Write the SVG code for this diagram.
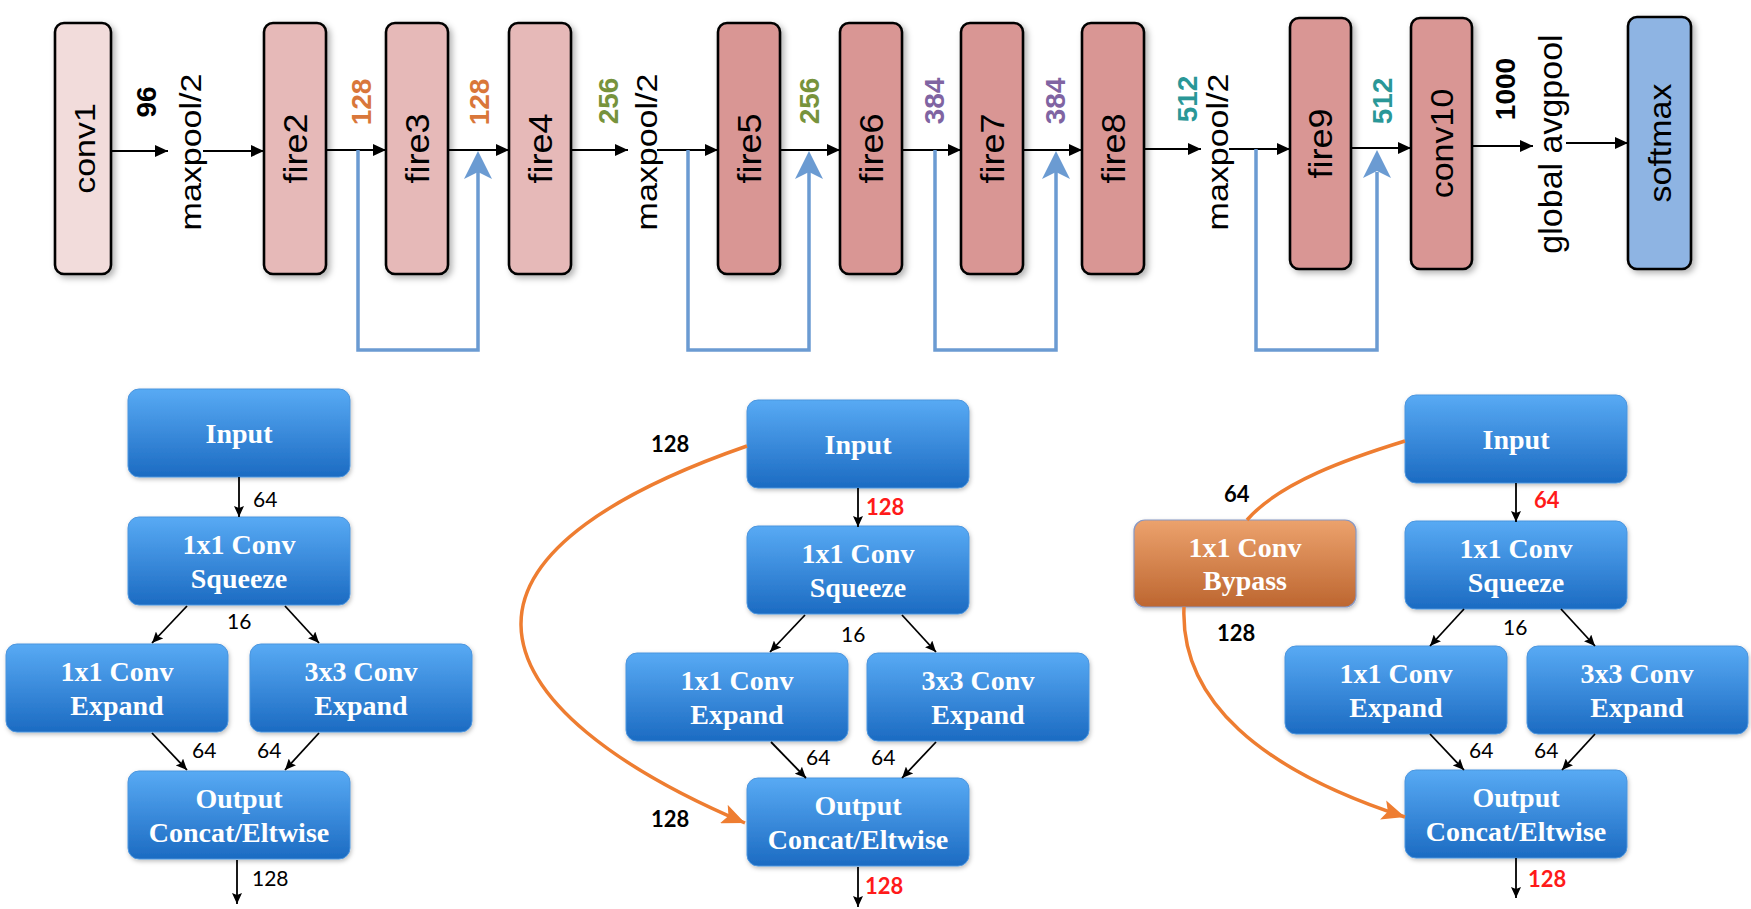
<svg xmlns="http://www.w3.org/2000/svg" width="1751" height="909" viewBox="0 0 1751 909">
<defs>
<style>
.tb{stroke:#000;stroke-width:2.6}
.c1{fill:#f2dcdb}.f1{fill:#e6b9b8}.f2{fill:#d99694}.sm{fill:#8eb4e3}
.lbl{font-family:"Liberation Sans",Arial,sans-serif;font-size:34px;fill:#000;text-anchor:middle}
.fl{font-size:36px}
.num{font-family:"Liberation Sans",Arial,sans-serif;font-size:28px;font-weight:bold;text-anchor:middle}
.ln{stroke:#000;stroke-width:2.2;fill:none}
.sk{stroke:#6b9bd2;stroke-width:3.5;fill:none}
.bl{fill:url(#gb);stroke:#4b95de;stroke-width:1}
.or{fill:url(#go);stroke:#8798c4;stroke-width:1.2}
.bt{font-family:"Liberation Serif","Times New Roman",serif;font-size:28px;font-weight:bold;fill:#fff;text-anchor:middle}
.sa{stroke:#000;stroke-width:1.8;fill:none}
.n{font-family:Lato,"Liberation Sans",sans-serif;font-size:21px;fill:#000}
.nb{font-family:Lato,"Liberation Sans",sans-serif;font-size:22px;font-weight:bold;fill:#000}
.nr{font-family:Lato,"Liberation Sans",sans-serif;font-size:22px;font-weight:bold;fill:#ff1a1a}
.oc{stroke:#ee7d31;stroke-width:3.5;fill:none}
</style>
<linearGradient id="gb" x1="0" y1="0" x2="0" y2="1">
<stop offset="0" stop-color="#58aaf4"/><stop offset="1" stop-color="#1c6bc2"/>
</linearGradient>
<linearGradient id="go" x1="0" y1="0" x2="0" y2="1">
<stop offset="0" stop-color="#eca26d"/><stop offset="1" stop-color="#bd6630"/>
</linearGradient>
<filter id="sh" x="-20%" y="-10%" width="150%" height="130%">
<feDropShadow dx="3" dy="3" stdDeviation="3" flood-color="#000" flood-opacity="0.3"/>
</filter>
<filter id="sh2" x="-10%" y="-10%" width="130%" height="140%">
<feDropShadow dx="1" dy="2" stdDeviation="2" flood-color="#000" flood-opacity="0.25"/>
</filter>
<marker id="ah" markerWidth="14" markerHeight="12" refX="13" refY="6" orient="auto" markerUnits="userSpaceOnUse">
<path d="M0,0 L13,6 L0,12 Z" fill="#000"/>
</marker>
<marker id="as" markerWidth="11" markerHeight="10" refX="11" refY="5" orient="auto" markerUnits="userSpaceOnUse">
<path d="M0,0 L11,5 L0,10 L2,5 Z" fill="#000"/>
</marker>
<marker id="ao" markerWidth="24" markerHeight="20" refX="23" refY="10" orient="auto" markerUnits="userSpaceOnUse">
<path d="M0,0 L23,10 L0,20 L5,10 Z" fill="#ee7d31"/>
</marker>
</defs>
<rect width="1751" height="909" fill="#fff"/>

<!-- top row nodes -->
<g id="conv1"><rect class="tb c1" x="55" y="23" width="56" height="251" rx="9" filter="url(#sh)"/><text class="lbl" transform="translate(95,148.5) scale(0.85,1) rotate(-90)">conv1</text></g>
<g id="fire2"><rect class="tb f1" x="264" y="23" width="62" height="251" rx="9" filter="url(#sh)"/><text class="lbl fl" transform="translate(307,148.5) scale(0.9,1) rotate(-90)">fire2</text></g>
<g id="fire3"><rect class="tb f1" x="386" y="23" width="62" height="251" rx="9" filter="url(#sh)"/><text class="lbl fl" transform="translate(429,148.5) scale(0.9,1) rotate(-90)">fire3</text></g>
<g id="fire4"><rect class="tb f1" x="509" y="23" width="62" height="251" rx="9" filter="url(#sh)"/><text class="lbl fl" transform="translate(552,148.5) scale(0.9,1) rotate(-90)">fire4</text></g>
<g id="fire5"><rect class="tb f2" x="718" y="23" width="62" height="251" rx="9" filter="url(#sh)"/><text class="lbl fl" transform="translate(761,148.5) scale(0.9,1) rotate(-90)">fire5</text></g>
<g id="fire6"><rect class="tb f2" x="840" y="23" width="62" height="251" rx="9" filter="url(#sh)"/><text class="lbl fl" transform="translate(883,148.5) scale(0.9,1) rotate(-90)">fire6</text></g>
<g id="fire7"><rect class="tb f2" x="961" y="23" width="62" height="251" rx="9" filter="url(#sh)"/><text class="lbl fl" transform="translate(1004,148.5) scale(0.9,1) rotate(-90)">fire7</text></g>
<g id="fire8"><rect class="tb f2" x="1082" y="23" width="62" height="251" rx="9" filter="url(#sh)"/><text class="lbl fl" transform="translate(1125,148.5) scale(0.9,1) rotate(-90)">fire8</text></g>
<g id="fire9"><rect class="tb f2" x="1290" y="18" width="61" height="251" rx="9" filter="url(#sh)"/><text class="lbl fl" transform="translate(1332,143.5) scale(0.9,1) rotate(-90)">fire9</text></g>
<g id="conv10"><rect class="tb f2" x="1411" y="18" width="61" height="251" rx="9" filter="url(#sh)"/><text class="lbl" transform="translate(1453,143.5) scale(0.9,1) rotate(-90)">conv10</text></g>
<g id="softmax"><rect class="tb sm" x="1628" y="17" width="63" height="252" rx="9" filter="url(#sh)"/><text class="lbl" transform="translate(1671,143) scale(0.9,1) rotate(-90)">softmax</text></g>

<!-- top row connectors -->
<g id="top-connectors">
<line class="ln" x1="111" y1="151" x2="168" y2="151" marker-end="url(#ah)"/>
<line class="ln" x1="203" y1="151" x2="264" y2="151" marker-end="url(#ah)"/>
<line class="ln" x1="326" y1="150" x2="386" y2="150" marker-end="url(#ah)"/>
<line class="ln" x1="448" y1="150" x2="509" y2="150" marker-end="url(#ah)"/>
<line class="ln" x1="571" y1="150" x2="628" y2="150" marker-end="url(#ah)"/>
<line class="ln" x1="657" y1="150" x2="718" y2="150" marker-end="url(#ah)"/>
<line class="ln" x1="780" y1="150" x2="840" y2="150" marker-end="url(#ah)"/>
<line class="ln" x1="902" y1="150" x2="961" y2="150" marker-end="url(#ah)"/>
<line class="ln" x1="1023" y1="150" x2="1082" y2="150" marker-end="url(#ah)"/>
<line class="ln" x1="1144" y1="149" x2="1201" y2="149" marker-end="url(#ah)"/>
<line class="ln" x1="1229" y1="149" x2="1290" y2="149" marker-end="url(#ah)"/>
<line class="ln" x1="1351" y1="148" x2="1411" y2="148" marker-end="url(#ah)"/>
<line class="ln" x1="1472" y1="146" x2="1533" y2="146" marker-end="url(#ah)"/>
<line class="ln" x1="1566" y1="143" x2="1628" y2="143" marker-end="url(#ah)"/>
<path class="sk" d="M358,150 V350 H478 V172"/>
<path class="sk" d="M688,150 V350 H809 V172"/>
<path class="sk" d="M935,150 V350 H1056 V172"/>
<path class="sk" d="M1256,149 V350 H1377 V172"/>
<path d="M478,151 L464,179 L478,172 L492,179 Z" fill="#6b9bd2"/>
<path d="M809,151 L795,179 L809,172 L823,179 Z" fill="#6b9bd2"/>
<path d="M1056,151 L1042,179 L1056,172 L1070,179 Z" fill="#6b9bd2"/>
<path d="M1377,150 L1363,178 L1377,171 L1391,178 Z" fill="#6b9bd2"/>
</g>

<!-- top row labels -->
<g id="top-labels">
<text class="num" fill="#000" transform="translate(156,102) rotate(-90)">96</text>
<text class="lbl" transform="translate(201,152) scale(0.88,1) rotate(-90)">maxpool/2</text>
<text class="num" fill="#d9773a" transform="translate(371,102) rotate(-90)">128</text>
<text class="num" fill="#d9773a" transform="translate(489,102) rotate(-90)">128</text>
<text class="num" fill="#77933c" transform="translate(618,101) rotate(-90)">256</text>
<text class="lbl" transform="translate(657,152) scale(0.88,1) rotate(-90)">maxpool/2</text>
<text class="num" fill="#77933c" transform="translate(819,101) rotate(-90)">256</text>
<text class="num" fill="#8064a2" transform="translate(944,101) rotate(-90)">384</text>
<text class="num" fill="#8064a2" transform="translate(1065,101) rotate(-90)">384</text>
<text class="num" fill="#2a9797" transform="translate(1197,99) rotate(-90)">512</text>
<text class="lbl" transform="translate(1228,152) scale(0.88,1) rotate(-90)">maxpool/2</text>
<text class="num" fill="#2a9797" transform="translate(1392,101) rotate(-90)">512</text>
<text class="num" fill="#000" transform="translate(1515,89) rotate(-90)">1000</text>
<text class="lbl" transform="translate(1562,144) scale(0.95,1) rotate(-90)">global avgpool</text>
</g>

<!-- panel 1 nodes -->
<g id="p1-input"><rect class="bl" x="128" y="389" width="222" height="88" rx="11" filter="url(#sh2)"/><text class="bt" x="239" y="443">Input</text></g>
<g id="p1-squeeze"><rect class="bl" x="128" y="517" width="222" height="88" rx="11" filter="url(#sh2)"/><text class="bt" x="239" y="554">1x1 Conv</text><text class="bt" x="239" y="588">Squeeze</text></g>
<g id="p1-expand1"><rect class="bl" x="6" y="644" width="222" height="88" rx="11" filter="url(#sh2)"/><text class="bt" x="117" y="681">1x1 Conv</text><text class="bt" x="117" y="715">Expand</text></g>
<g id="p1-expand3"><rect class="bl" x="250" y="644" width="222" height="88" rx="11" filter="url(#sh2)"/><text class="bt" x="361" y="681">3x3 Conv</text><text class="bt" x="361" y="715">Expand</text></g>
<g id="p1-output"><rect class="bl" x="128" y="771" width="222" height="88" rx="11" filter="url(#sh2)"/><text class="bt" x="239" y="808">Output</text><text class="bt" x="239" y="842">Concat/Eltwise</text></g>

<!-- panel 2 nodes -->
<g id="p2-input"><rect class="bl" x="747" y="400" width="222" height="88" rx="11" filter="url(#sh2)"/><text class="bt" x="858" y="454">Input</text></g>
<g id="p2-squeeze"><rect class="bl" x="747" y="526" width="222" height="88" rx="11" filter="url(#sh2)"/><text class="bt" x="858" y="563">1x1 Conv</text><text class="bt" x="858" y="597">Squeeze</text></g>
<g id="p2-expand1"><rect class="bl" x="626" y="653" width="222" height="88" rx="11" filter="url(#sh2)"/><text class="bt" x="737" y="690">1x1 Conv</text><text class="bt" x="737" y="724">Expand</text></g>
<g id="p2-expand3"><rect class="bl" x="867" y="653" width="222" height="88" rx="11" filter="url(#sh2)"/><text class="bt" x="978" y="690">3x3 Conv</text><text class="bt" x="978" y="724">Expand</text></g>
<g id="p2-output"><rect class="bl" x="747" y="778" width="222" height="88" rx="11" filter="url(#sh2)"/><text class="bt" x="858" y="815">Output</text><text class="bt" x="858" y="849">Concat/Eltwise</text></g>

<!-- panel 3 nodes -->
<g id="p3-input"><rect class="bl" x="1405" y="395" width="222" height="88" rx="11" filter="url(#sh2)"/><text class="bt" x="1516" y="449">Input</text></g>
<g id="p3-bypass"><rect class="or" x="1134" y="520" width="222" height="87" rx="11" filter="url(#sh2)"/><text class="bt" x="1245" y="557">1x1 Conv</text><text class="bt" x="1245" y="590">Bypass</text></g>
<g id="p3-squeeze"><rect class="bl" x="1405" y="521" width="222" height="88" rx="11" filter="url(#sh2)"/><text class="bt" x="1516" y="558">1x1 Conv</text><text class="bt" x="1516" y="592">Squeeze</text></g>
<g id="p3-expand1"><rect class="bl" x="1285" y="646" width="222" height="88" rx="11" filter="url(#sh2)"/><text class="bt" x="1396" y="683">1x1 Conv</text><text class="bt" x="1396" y="717">Expand</text></g>
<g id="p3-expand3"><rect class="bl" x="1527" y="646" width="221" height="88" rx="11" filter="url(#sh2)"/><text class="bt" x="1637" y="683">3x3 Conv</text><text class="bt" x="1637" y="717">Expand</text></g>
<g id="p3-output"><rect class="bl" x="1405" y="770" width="222" height="88" rx="11" filter="url(#sh2)"/><text class="bt" x="1516" y="807">Output</text><text class="bt" x="1516" y="841">Concat/Eltwise</text></g>

<!-- bottom connectors -->
<g id="bottom-connectors">
<line class="sa" x1="239" y1="477" x2="239" y2="517" marker-end="url(#as)"/>
<line class="sa" x1="187" y1="606" x2="152" y2="643" marker-end="url(#as)"/>
<line class="sa" x1="285" y1="606" x2="319" y2="643" marker-end="url(#as)"/>
<line class="sa" x1="152" y1="733" x2="187" y2="770" marker-end="url(#as)"/>
<line class="sa" x1="319" y1="733" x2="285" y2="770" marker-end="url(#as)"/>
<line class="sa" x1="237" y1="860" x2="237" y2="904" marker-end="url(#as)"/>

<line class="sa" x1="858" y1="488" x2="858" y2="527" marker-end="url(#as)"/>
<line class="sa" x1="805" y1="615" x2="770" y2="652" marker-end="url(#as)"/>
<line class="sa" x1="902" y1="615" x2="936" y2="652" marker-end="url(#as)"/>
<line class="sa" x1="771" y1="742" x2="806" y2="778" marker-end="url(#as)"/>
<line class="sa" x1="936" y1="742" x2="902" y2="778" marker-end="url(#as)"/>
<line class="sa" x1="858" y1="867" x2="858" y2="907" marker-end="url(#as)"/>

<line class="sa" x1="1516" y1="483" x2="1516" y2="522" marker-end="url(#as)"/>
<line class="sa" x1="1464" y1="609" x2="1430" y2="646" marker-end="url(#as)"/>
<line class="sa" x1="1561" y1="609" x2="1595" y2="646" marker-end="url(#as)"/>
<line class="sa" x1="1430" y1="734" x2="1464" y2="770" marker-end="url(#as)"/>
<line class="sa" x1="1595" y1="734" x2="1562" y2="770" marker-end="url(#as)"/>
<line class="sa" x1="1516" y1="858" x2="1516" y2="898" marker-end="url(#as)"/>

<path class="oc" d="M747,446 C620,490 520,550 521,625 C522,700 620,770 745,823" marker-end="url(#ao)"/>
<path class="oc" d="M1405,441 C1350,458 1280,482 1247,520"/>
<path class="oc" d="M1184,607 C1180,700 1260,770 1405,817" marker-end="url(#ao)"/>
</g>

<!-- bottom labels -->
<g id="bottom-labels">
<text class="n" x="253" y="507">64</text>
<text class="n" x="227" y="629">16</text>
<text class="n" x="192" y="758">64</text>
<text class="n" x="257" y="758">64</text>
<text class="n" x="252" y="886">128</text>

<text class="nb" x="651" y="452">128</text>
<text class="nr" x="866" y="515">128</text>
<text class="n" x="841" y="642">16</text>
<text class="n" x="806" y="765">64</text>
<text class="n" x="871" y="765">64</text>
<text class="nb" x="651" y="827">128</text>
<text class="nr" x="865" y="894">128</text>

<text class="nb" x="1224" y="502">64</text>
<text class="nr" x="1534" y="508">64</text>
<text class="nb" x="1217" y="641">128</text>
<text class="n" x="1503" y="635">16</text>
<text class="n" x="1469" y="758">64</text>
<text class="n" x="1534" y="758">64</text>
<text class="nr" x="1528" y="887">128</text>
</g>
</svg>
